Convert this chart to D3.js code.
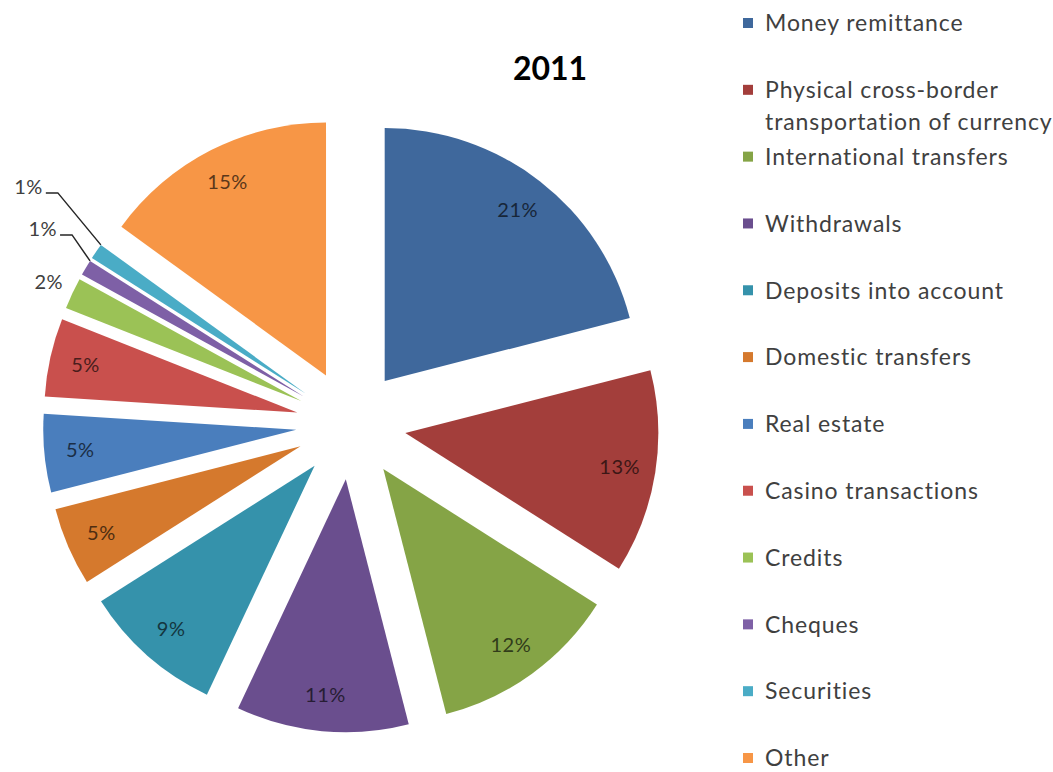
<!DOCTYPE html>
<html>
<head>
<meta charset="utf-8">
<script src="https://cdn.jsdelivr.net/npm/d3@7"></script>
<style>
  html, body { margin: 0; padding: 0; background: #fff; }
  svg { display: block; }
  text { font-family: Lato, "Open Sans", sans-serif; }
</style>
</head>
<body>
<svg id="chart" width="1053" height="772"></svg>
<script>
// Shares of suspicious transaction types, 2011
const chartTitle = "2011";
const categories = [
  "Money remittance",
  "Physical cross-border transportation of currency",
  "International transfers",
  "Withdrawals",
  "Deposits into account",
  "Domestic transfers",
  "Real estate",
  "Casino transactions",
  "Credits",
  "Cheques",
  "Securities",
  "Other"
];
const legendLines = [
  ["Money remittance"],
  ["Physical cross-border", "transportation of currency"],
  ["International transfers"],
  ["Withdrawals"],
  ["Deposits into account"],
  ["Domestic transfers"],
  ["Real estate"],
  ["Casino transactions"],
  ["Credits"],
  ["Cheques"],
  ["Securities"],
  ["Other"]
];
const shares = [21, 13, 12, 11, 9, 5, 5, 5, 2, 1, 1, 15];
const colors = [
  "#3f689c", "#a33e3b", "#85a446", "#6a4e8e", "#3592ab", "#d5792d",
  "#4a7ebd", "#c9504d", "#9bc256", "#7e60a6", "#4aacc6", "#f79646"
];

// layout
const cx = 351, cy = 424.5;
const radius = 253;
const explode = 55;
const labelRadius = 217;
const outsideRadius = 279;
// elbow offsets for the leader-line labels (from slice corner)
const leaderOffsets = { 9: [-18, -26], 10: [-43, -52] };

const svg = d3.select("#chart");

const pie = d3.pie().sort(null).value(d => d);
const arcs = pie(shares);

const arc = d3.arc().innerRadius(0).outerRadius(radius);
const labelArc = d3.arc().innerRadius(labelRadius).outerRadius(labelRadius);
const outArc = d3.arc().innerRadius(outsideRadius).outerRadius(outsideRadius);

const mid = a => (a.startAngle + a.endAngle) / 2;
const shift = a => [Math.sin(mid(a)) * explode, -Math.cos(mid(a)) * explode];

const pieG = svg.append("g").attr("transform", `translate(${cx},${cy})`);

const slices = pieG.selectAll("g.slice")
  .data(arcs)
  .join("g")
  .attr("class", "slice")
  .attr("transform", a => `translate(${shift(a)[0]},${shift(a)[1]})`);

slices.append("path")
  .attr("d", arc)
  .attr("fill", (a, i) => colors[i]);

// labels inside the larger slices
slices.filter(a => a.data >= 3)
  .append("text")
  .attr("transform", a => `translate(${labelArc.centroid(a)})`)
  .attr("text-anchor", "middle")
  .attr("dy", "0.36em")
  .attr("font-size", 20)
  .attr("letter-spacing", 0.5)
  .attr("fill", a => d3.color(colors[arcs.indexOf(a)]).darker(2.8))
  .text(a => a.data + "%");

// small slices: label outside, leader lines where needed
arcs.forEach((a, i) => {
  if (a.data >= 3) return;
  const [sx, sy] = shift(a);
  const g = pieG.append("g").attr("transform", `translate(${sx},${sy})`);
  if (leaderOffsets[i]) {
    const corner = [Math.sin(a.endAngle) * radius, -Math.cos(a.endAngle) * radius];
    const elbow = [corner[0] + leaderOffsets[i][0], corner[1] + leaderOffsets[i][1]];
    const end = [elbow[0] - 12, elbow[1]];
    g.append("path")
      .attr("d", d3.line()([corner, elbow, end]))
      .attr("fill", "none")
      .attr("stroke", "#262626")
      .attr("stroke-width", 1.5);
    g.append("text")
      .attr("x", end[0] - 3)
      .attr("y", end[1] - 6)
      .attr("text-anchor", "end")
      .attr("dy", "0.36em")
      .attr("font-size", 20)
      .attr("letter-spacing", 0.5)
      .attr("fill", "#404040")
      .text(a.data + "%");
  } else {
    g.append("text")
      .attr("transform", `translate(${outArc.centroid(a)})`)
      .attr("text-anchor", "middle")
      .attr("dy", "0.36em")
      .attr("font-size", 20)
      .attr("letter-spacing", 0.5)
      .attr("fill", "#404040")
      .text(a.data + "%");
  }
});

// title
svg.append("text")
  .attr("x", 550)
  .attr("y", 80)
  .attr("text-anchor", "middle")
  .attr("font-size", 32)
  .attr("font-weight", "bold")
  .attr("fill", "#000")
  .text(chartTitle);

// legend
const legendY = d3.scaleLinear().domain([0, categories.length - 1]).range([23, 758]);
const legend = svg.append("g");
const items = legend.selectAll("g.item")
  .data(categories)
  .join("g")
  .attr("class", "item")
  .attr("transform", (d, i) => `translate(743,${legendY(i)})`);

items.append("rect")
  .attr("x", 0)
  .attr("y", -5)
  .attr("width", 10)
  .attr("height", 10)
  .attr("fill", (d, i) => colors[i]);

items.each(function(d, i) {
  const t = d3.select(this).append("text")
    .attr("x", 22)
    .attr("font-size", 23)
    .attr("letter-spacing", 0.9)
    .attr("fill", "#404040");
  legendLines[i].forEach((line, k) => {
    t.append("tspan")
      .attr("x", 22)
      .attr("y", k * 32)
      .attr("dy", "0.36em")
      .text(line);
  });
});
</script>
</body>
</html>
